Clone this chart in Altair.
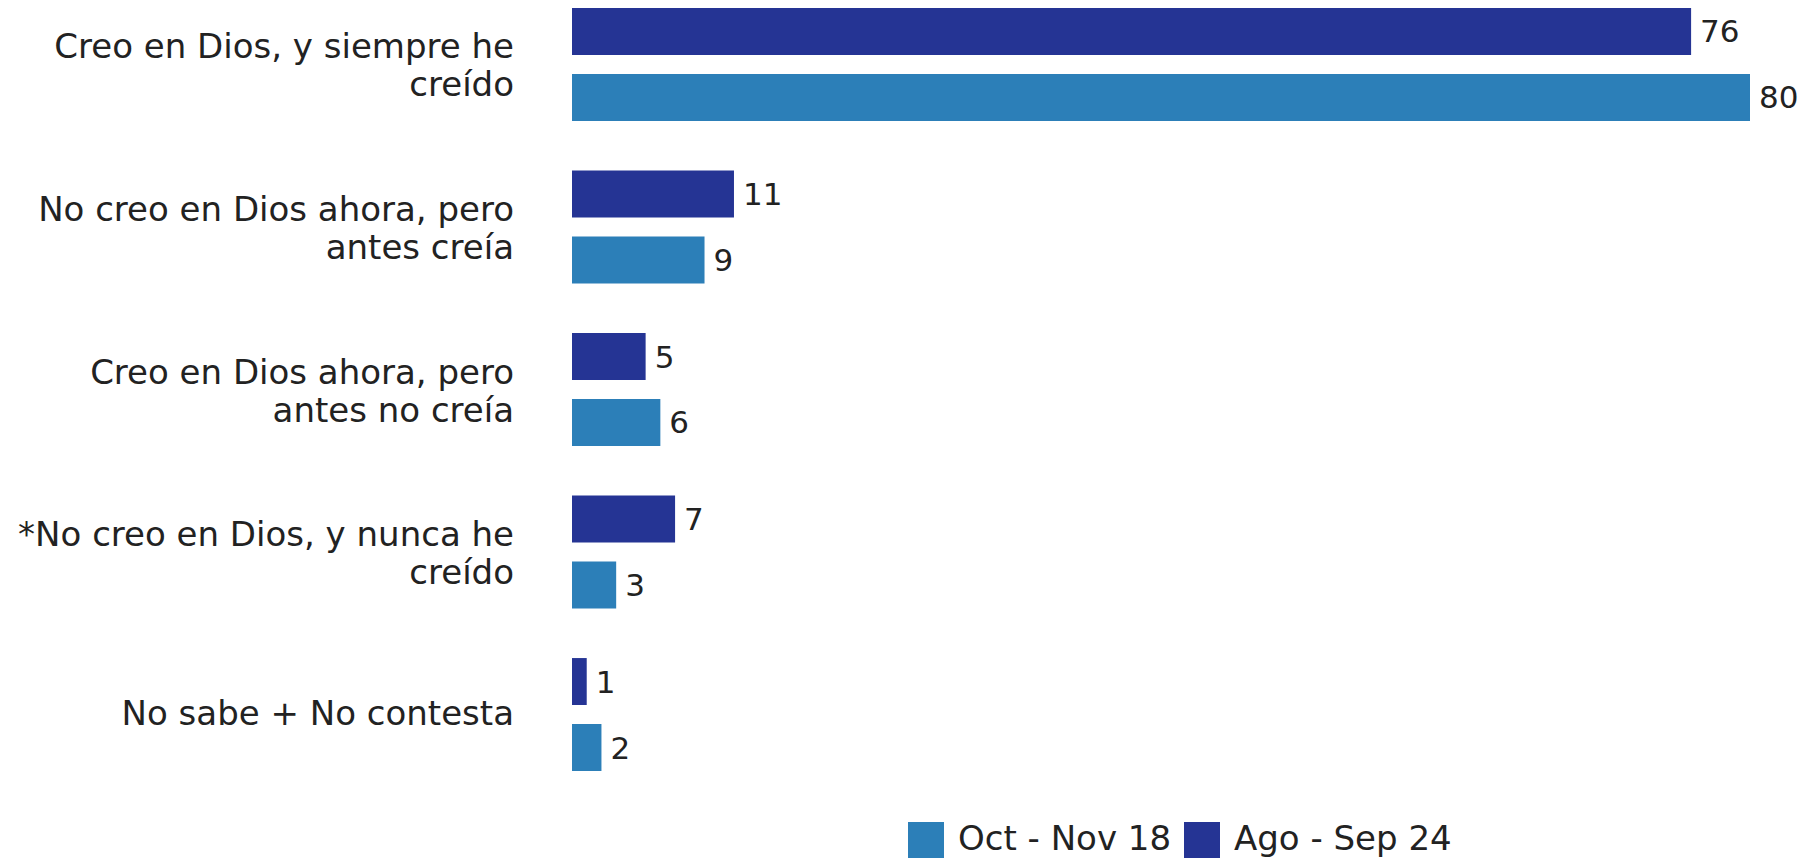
import altair as alt
import pandas as pd

categorias = [
    "Creo en Dios, y siempre he\ncreído",
    "No creo en Dios ahora, pero\nantes creía",
    "Creo en Dios ahora, pero\nantes no creía",
    "*No creo en Dios, y nunca he\ncreído",
    "No sabe + No contesta",
]
serie_ago = "Ago - Sep 24"
serie_oct = "Oct - Nov 18"
valores_ago = [76, 11, 5, 7, 1]
valores_oct = [80, 9, 6, 3, 2]

COL_OCT = "#2c7fb8"
COL_AGO = "#253494"
FONT = "DejaVu Sans"
FS = 34
FS_VAL = 31
TXT = "#222222"

rows = []
for c, a, o in zip(categorias, valores_ago, valores_oct):
    rows.append({"cat": c, "serie": serie_ago, "value": a})
    rows.append({"cat": c, "serie": serie_oct, "value": o})
df = pd.DataFrame(rows)

lab_df = pd.DataFrame({"cat": categorias,
                       "nlines": [c.count("\n") + 1 for c in categorias]})

y_enc = alt.Y("cat:N", sort=categorias,
              scale=alt.Scale(paddingInner=0.305, paddingOuter=0), axis=None)
yoff_enc = alt.YOffset("serie:N", sort=[serie_ago, serie_oct],
                       scale=alt.Scale(paddingInner=0.288, paddingOuter=0))
x_enc = alt.X("value:Q", scale=alt.Scale(domain=[0, 80], nice=False), axis=None)

bars = alt.Chart(df).mark_bar().encode(
    y=y_enc,
    yOffset=yoff_enc,
    x=x_enc,
    color=alt.Color(
        "serie:N",
        scale=alt.Scale(domain=[serie_oct, serie_ago], range=[COL_OCT, COL_AGO]),
        legend=alt.Legend(
            title=None, orient="none", legendX=336, legendY=814,
            direction="horizontal", symbolType="square", symbolSize=1296,
            symbolStrokeWidth=0, symbolOpacity=1, labelFontSize=FS,
            labelFont=FONT, labelColor=TXT, labelLimit=400, padding=0,
            columnPadding=12, labelOffset=14,
        ),
    ),
)

values = alt.Chart(df).mark_text(
    align="left", baseline="middle", dx=9, dy=2, fontSize=FS_VAL, font=FONT, color=TXT
).encode(y=y_enc, yOffset=yoff_enc, x=x_enc, text="value:Q")

lab_multi = alt.Chart(lab_df).transform_filter("datum.nlines > 1").mark_text(
    align="right", baseline="middle", lineBreak="\n", lineHeight=38,
    fontSize=FS, font=FONT, color=TXT, dy=-16
).encode(y=alt.Y("cat:N", sort=categorias), x=alt.value(-58), text="cat:N")

lab_single = alt.Chart(lab_df).transform_filter("datum.nlines == 1").mark_text(
    align="right", baseline="middle", fontSize=FS, font=FONT, color=TXT
).encode(y=alt.Y("cat:N", sort=categorias), x=alt.value(-58), text="cat:N")

chart = alt.layer(bars, values, lab_multi, lab_single).properties(
    width=1178, height=763,
    autosize=alt.AutoSizeParams(type="none"),
    padding={"left": 564, "top": 0, "right": 49, "bottom": 87},
).configure_view(stroke=None)

chart.save("out.html", embed_options={"renderer": "svg", "actions": False})
